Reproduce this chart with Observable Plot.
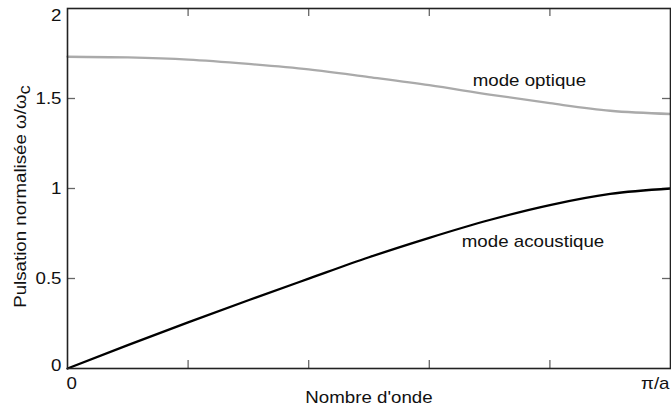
<!DOCTYPE html>
<html>
<head>
<meta charset="utf-8">
<script src="https://cdn.jsdelivr.net/npm/d3@7"></script>
<script src="https://cdn.jsdelivr.net/npm/@observablehq/plot@0.6"></script>
<style>
  body { margin: 0; background: #fff; }
  #chart svg { display: block; }
</style>
</head>
<body>
<div id="chart"></div>
<script>
// Wave number as a fraction of π/a
const k = [0, 0.1, 0.2, 0.3, 0.4, 0.5, 0.6, 0.7, 0.8, 0.9, 1];
// Normalised pulsation ω/ωc
const optique    = [1.732, 1.728, 1.716, 1.692, 1.662, 1.619, 1.574, 1.522, 1.474, 1.432, 1.414];
const acoustique = [0, 0.13, 0.256, 0.379, 0.499, 0.618, 0.726, 0.825, 0.908, 0.97, 1.0];

const xTicks = [0, 0.2, 0.4, 0.6, 0.8, 1];
const xTickLabels = ["0", "", "", "", "", "π/a"];
const yTicks = [0, 0.5, 1, 1.5, 2];
const yTickLabels = ["0", "0.5", "1", "1.5", "2"];

const curveNames = ["mode optique", "mode acoustique"];
const curveLabelK = [0.766, 0.772];
const curveLabelW = [1.6, 0.706];

const xLabel = "Nombre d'onde";
const yLabel = "Pulsation normalisée ω/ω";
const yLabelSub = "c";

const FONT = "'Liberation Sans', Arial, Helvetica, sans-serif";
const FS = 16;

const optRows = k.map((d, i) => ({k: d, w: optique[i]}));
const acRows = k.map((d, i) => ({k: d, w: acoustique[i]}));
const curveLabels = curveNames.map((n, i) => ({name: n, k: curveLabelK[i], w: curveLabelW[i]}));
const xLab = xTicks.map((t, i) => ({t, label: xTickLabels[i]})).filter(d => d.label);
const yLab = yTicks.map((t, i) => ({t, label: yTickLabels[i]}));
const innerX = xTicks.slice(1, -1);
const innerY = yTicks.slice(1, -1);

const chart = Plot.plot({
  width: 671,
  height: 408,
  marginLeft: 67,
  marginRight: 1,
  marginTop: 8,
  marginBottom: 40,
  style: {fontFamily: FONT, fontSize: "16px", background: "#fff", color: "#111"},
  x: {domain: [0, 1], axis: null},
  y: {domain: [0, 2], axis: null},
  marks: [
    // inward ticks
    Plot.tickX(innerX, {x: d => d, insetTop: 352, stroke: "#666", strokeWidth: 1.3}),
    Plot.tickX(innerX, {x: d => d, insetBottom: 352, stroke: "#666", strokeWidth: 1.3}),
    Plot.tickY(innerY, {y: d => d, insetRight: 595, stroke: "#666", strokeWidth: 1.3}),
    Plot.tickY(innerY, {y: d => d, insetLeft: 595, stroke: "#666", strokeWidth: 1.3}),
    // curves
    Plot.line(optRows, {x: "k", y: "w", stroke: "#aaaaaa", strokeWidth: 2.3, curve: "monotone-x"}),
    Plot.line(acRows, {x: "k", y: "w", stroke: "#000", strokeWidth: 2.3, curve: "monotone-x"}),
    Plot.frame({stroke: "#222", strokeWidth: 1.6}),
    // y tick labels
    Plot.text(yLab.filter(d => d.t > 0 && d.t < 2), {y: "t", text: "label", frameAnchor: "left", dx: -6, textAnchor: "end", lineAnchor: "middle", fontSize: FS, fill: "#111"}),
    Plot.text(yLab.filter(d => d.t === 0), {y: "t", text: "label", frameAnchor: "left", dx: -6, dy: -3, textAnchor: "end", lineAnchor: "middle", fontSize: FS, fill: "#111"}),
    Plot.text(yLab.filter(d => d.t === 2), {y: "t", text: "label", frameAnchor: "left", dx: -6, dy: 7, textAnchor: "end", lineAnchor: "middle", fontSize: FS, fill: "#111"}),
    // x tick labels
    Plot.text(xLab.filter(d => d.t === 0), {x: "t", text: "label", frameAnchor: "bottom", dx: -1, dy: 9, textAnchor: "start", lineAnchor: "top", fontSize: FS, fill: "#111"}),
    Plot.text(xLab.filter(d => d.t === 1), {x: "t", text: "label", frameAnchor: "bottom", dx: -1, dy: 9, textAnchor: "end", lineAnchor: "top", fontSize: FS, fill: "#111"}),
    // curve labels
    Plot.text(curveLabels, {x: "k", y: "w", text: "name", textAnchor: "middle", lineAnchor: "middle", fontSize: FS, fill: "#111"}),
    // axis labels
    Plot.text([xLabel], {frameAnchor: "bottom", dy: 23, textAnchor: "middle", lineAnchor: "top", fontSize: FS, fill: "#111"}),
    Plot.text([yLabel], {frameAnchor: "left", dx: -47, dy: 8, rotate: -90, textAnchor: "middle", lineAnchor: "middle", fontSize: FS, fill: "#111"})
  ]
});

// subscript on the y label
chart.querySelectorAll("text").forEach(t => {
  if (t.textContent === yLabel) {
    const ts = document.createElementNS("http://www.w3.org/2000/svg", "tspan");
    ts.setAttribute("dy", "0.3em");
    ts.textContent = yLabelSub;
    t.appendChild(ts);
  }
});
// widen glyphs horizontally (around each text's anchor) to match the reference lettering
chart.querySelectorAll("text").forEach(t => {
  const tr = t.getAttribute("transform") || "";
  t.setAttribute("transform", `${tr} scale(1.17,1)`);
});

document.getElementById("chart").appendChild(chart);
</script>
</body>
</html>
